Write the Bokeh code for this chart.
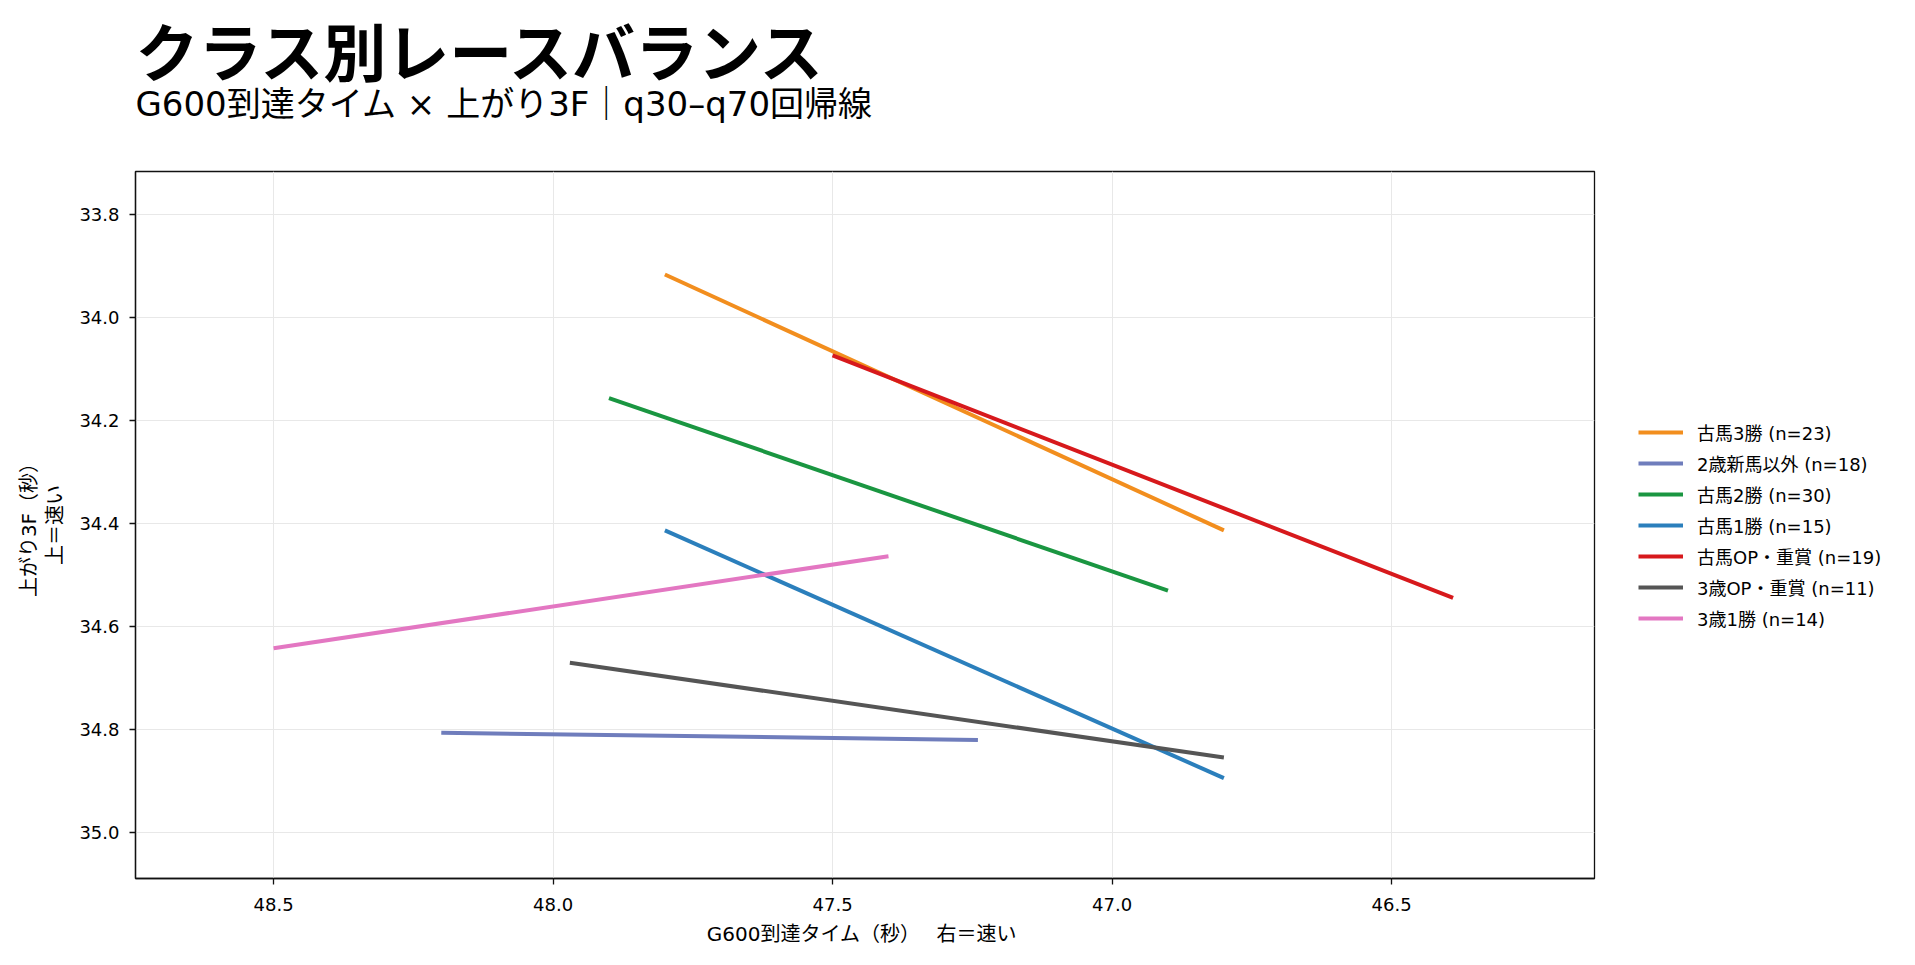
from bokeh.models import Range1d, FixedTicker, Legend, LegendItem, Title, NumeralTickFormatter
from bokeh.plotting import figure
from bokeh.embed import file_html
from bokeh.resources import INLINE

JP = "Noto Sans CJK JP"
MIX = "'DejaVu Sans', 'Noto Sans CJK JP'"

# regression line end points
classes = ["古馬3勝", "2歳新馬以外", "古馬2勝", "古馬1勝", "古馬OP・重賞", "3歳OP・重賞", "3歳1勝"]
counts = [23, 18, 30, 15, 19, 11, 14]
colors = ["#f28e1e", "#6f7dbc", "#1a9641", "#2b7fbc", "#d7191c", "#555555", "#e377c2"]
x_start = [47.80, 48.20, 47.90, 47.80, 47.50, 47.97, 48.50]
x_end = [46.80, 47.24, 46.90, 46.80, 46.39, 46.80, 47.40]
y_start = [33.917, 34.807, 34.157, 34.414, 34.074, 34.671, 34.643]
y_end = [34.414, 34.821, 34.531, 34.895, 34.545, 34.855, 34.464]

x_ticks = [48.5, 48.0, 47.5, 47.0, 46.5]
y_ticks = [33.8, 34.0, 34.2, 34.4, 34.6, 34.8, 35.0]

p = figure(frame_width=1459, frame_height=707, output_backend="svg", toolbar_location=None,
           min_border_left=127, min_border_right=290, min_border_top=160, min_border_bottom=70)
p.title = None
p.x_range = Range1d(48.747, 46.137)
p.y_range = Range1d(35.09, 33.717)

items = []
for i, name in enumerate(classes):
    r = p.line([x_start[i], x_end[i]], [y_start[i], y_end[i]], line_color=colors[i], line_width=4)
    items.append(LegendItem(label=f"{name} (n={counts[i]})", renderers=[r]))

# spacers: between subtitle and frame, and left of the y axis label
p.add_layout(Title(text=" ", text_font_size="10px", standoff=47), "above")
p.add_layout(Title(text="G600到達タイム × 上がり3F｜q30–q70回帰線", text_font=MIX,
                   text_font_size="34px", text_font_style="normal", text_color="black",
                   align="left", standoff=-24), "above")
p.add_layout(Title(text="クラス別レースバランス", text_font=JP, text_font_size="63px",
                   text_font_style="bold", text_color="black", align="left", standoff=0), "above")
p.add_layout(Title(text=" ", text_font_size="1px", standoff=11), "left")

legend = Legend(items=items, location="center_left", border_line_alpha=0,
                background_fill_alpha=0, label_text_font=MIX, label_text_font_size="18px",
                label_text_color="black",
                glyph_width=45, glyph_height=24, label_height=24, spacing=5,
                margin=34, padding=10, label_standoff=14)
p.add_layout(legend, "right")

p.xaxis.ticker = FixedTicker(ticks=x_ticks)
p.yaxis.ticker = FixedTicker(ticks=y_ticks)
p.xaxis.formatter = NumeralTickFormatter(format="0.0")
p.yaxis.formatter = NumeralTickFormatter(format="0.0")
p.xaxis.axis_label = "G600到達タイム（秒）　  右＝速い"
p.yaxis.axis_label = "上がり3F（秒）\n上＝速い"

for ax in (p.xaxis, p.yaxis):
    ax.axis_label_text_font = MIX
    ax.axis_label_text_font_size = "20px"
    ax.axis_label_text_font_style = "normal"
    ax.axis_label_text_color = "black"
    ax.axis_label_text_line_height = 1.1
    ax.major_label_text_font = MIX
    ax.major_label_text_font_size = "18px"
    ax.major_label_text_color = "black"
    ax.minor_tick_line_color = None
    ax.major_tick_line_color = "#111111"
    ax.major_tick_line_width = 1.3
    ax.major_tick_out = 6
    ax.major_tick_in = 0
    ax.axis_line_color = "#111111"
    ax.axis_line_width = 1.3
p.xaxis.major_label_standoff = 13
p.yaxis.major_label_standoff = 10
p.xaxis.axis_label_standoff = 8
p.yaxis.axis_label_standoff = 9

p.grid.grid_line_color = "#e8e8e8"
p.grid.grid_line_width = 1
p.outline_line_color = "#111111"
p.outline_line_width = 1.3
p.outline_line_alpha = 1

open("out.html", "w").write(file_html(p, INLINE))
